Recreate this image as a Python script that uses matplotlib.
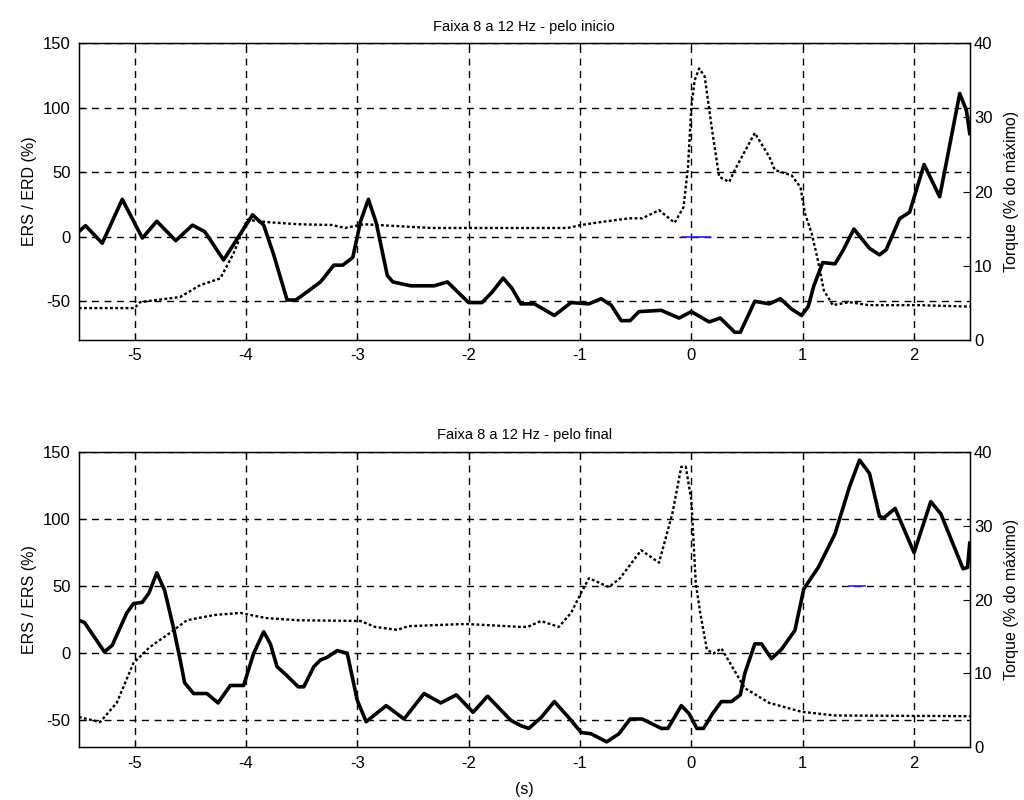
import matplotlib
matplotlib.use("Agg")
import matplotlib.pyplot as plt

plt.rcParams["font.family"] = ["Liberation Sans", "DejaVu Sans"]
plt.rcParams["axes.unicode_minus"] = False

# ---- pelo inicio (top) ----
t1_ers = [-5.5, -5.44, -5.29, -5.11, -4.93, -4.80, -4.63, -4.48, -4.37, -4.20,
          -3.94, -3.84, -3.75, -3.63, -3.55, -3.33, -3.21, -3.13, -3.04, -2.97,
          -2.90, -2.83, -2.73, -2.68, -2.52, -2.31, -2.19, -2.00, -1.88, -1.79,
          -1.69, -1.61, -1.53, -1.41, -1.23, -1.08, -0.92, -0.81, -0.72, -0.63,
          -0.55, -0.47, -0.27, -0.11, 0.0, 0.16, 0.26, 0.39, 0.44, 0.57,
          0.70, 0.80, 0.90, 0.99, 1.05, 1.10, 1.18, 1.29, 1.36, 1.46,
          1.60, 1.69, 1.75, 1.87, 1.96, 2.09, 2.23, 2.28, 2.41, 2.47, 2.5]
ers1 = [4, 8.6, -5, 29, -1, 12, -3, 9, 4, -18,
        17, 9, -14, -49, -49, -35, -22, -22, -16, 12,
        29, 11, -30, -35, -38, -38, -35, -51, -51, -43,
        -32, -40, -52, -52, -61, -51, -52, -48, -53, -65,
        -65, -58, -57, -63, -58, -66, -63, -74, -74, -50,
        -52, -48, -56, -61, -54, -38, -20, -21, -11, 6,
        -9, -14, -10, 14, 19, 56, 31, 53, 111, 98, 80]

t1_torque = [-5.5, -5.0, -4.95, -4.59, -4.41, -4.23, -4.11, -3.99, -3.82, -3.53,
             -3.23, -3.11, -2.94, -2.34, -1.53, -1.11, -0.99, -0.81, -0.56, -0.44,
             -0.29, -0.15, -0.07, -0.03, 0.0, 0.03, 0.07, 0.12, 0.19, 0.25,
             0.34, 0.39, 0.57, 0.70, 0.75, 0.90, 0.98, 1.02, 1.08, 1.13,
             1.19, 1.27, 1.42, 1.59, 2.04, 2.5]
torque1 = [4.3, 4.3, 5.1, 5.8, 7.4, 8.3, 11.7, 16.2, 15.9, 15.6,
           15.5, 15.1, 15.6, 15.1, 15.1, 15.1, 15.5, 15.9, 16.4, 16.4,
           17.5, 15.8, 17.9, 23.3, 31.4, 35.0, 36.6, 35.5, 27.9, 22.0,
           21.3, 22.9, 27.9, 24.7, 22.9, 22.2, 20.6, 17.1, 14.4, 11.2,
           6.7, 4.7, 5.1, 4.7, 4.7, 4.5]

# ---- pelo final (bottom) ----
t2_ers = [-5.5, -5.45, -5.27, -5.20, -5.07, -5.01, -4.93, -4.87, -4.80, -4.73,
          -4.65, -4.59, -4.55, -4.47, -4.35, -4.25, -4.14, -4.02, -3.93, -3.84,
          -3.78, -3.72, -3.64, -3.53, -3.48, -3.39, -3.33, -3.27, -3.18, -3.09,
          -3.00, -2.92, -2.74, -2.58, -2.40, -2.25, -2.11, -1.96, -1.83, -1.62,
          -1.53, -1.46, -1.35, -1.23, -1.10, -0.99, -0.90, -0.76, -0.65, -0.55,
          -0.44, -0.27, -0.21, -0.09, -0.02, 0.05, 0.11, 0.19, 0.27, 0.36,
          0.44, 0.48, 0.57, 0.63, 0.72, 0.81, 0.93, 1.01, 1.14, 1.29,
          1.42, 1.51, 1.60, 1.69, 1.73, 1.83, 2.00, 2.15, 2.24, 2.44, 2.48, 2.5]
ers2 = [24.6, 23, 1, 6, 30, 37, 38, 45, 60, 47,
        19, -5, -22, -30, -30, -37, -24, -24, 0, 16,
        7, -10, -16, -25, -25, -10, -5, -3, 2, 0,
        -35, -51, -39, -49, -30, -37, -31, -44, -32, -50,
        -54, -56, -48, -36, -48, -59, -60, -66, -60, -49,
        -49, -56, -56, -39, -45, -56, -56, -45, -36, -36,
        -31, -15, 7, 7, -4, 3, 17, 48, 64, 89,
        124, 144, 134, 102, 101, 108, 75, 113, 104, 63, 64, 82]

t2_torque = [-5.5, -5.31, -5.16, -5.01, -4.86, -4.68, -4.53, -4.29, -4.05, -3.82,
             -3.53, -2.97, -2.84, -2.64, -2.54, -2.03, -1.53, -1.47, -1.35, -1.19,
             -1.08, -0.99, -0.92, -0.74, -0.64, -0.45, -0.29, -0.17, -0.09, -0.05,
             0.0, 0.04, 0.08, 0.14, 0.20, 0.27, 0.48, 0.70, 0.99, 1.29, 2.5]
torque2 = [4.1, 3.4, 6.0, 11.4, 13.6, 15.5, 17.2, 17.9, 18.2, 17.5,
           17.2, 17.1, 16.3, 15.9, 16.4, 16.7, 16.3, 16.3, 17.1, 16.3,
           18.2, 20.9, 22.9, 21.7, 22.9, 26.7, 25.0, 31.7, 38.0, 38.0,
           33.5, 22.2, 18.2, 13.2, 12.7, 13.4, 8.0, 6.0, 4.8, 4.3, 4.2]

# short blue strokes sitting on the grid lines
blue1_t, blue1_y = [-0.08, 0.17], [0, 0]
blue2_t, blue2_y = [1.42, 1.56], [50, 50]

titles = ["Faixa 8 a 12 Hz - pelo inicio", "Faixa 8 a 12 Hz - pelo final"]
ylabels = ["ERS / ERD (%)", "ERS / ERS (%)"]
ylims = [(-80, 150), (-70, 150)]

fig = plt.figure(figsize=(10.24, 8), dpi=100)
boxes = [[0.077, 0.575, 0.870, 0.371], [0.077, 0.066, 0.870, 0.369]]
panels = [(t1_ers, ers1, t1_torque, torque1, blue1_t, blue1_y),
          (t2_ers, ers2, t2_torque, torque2, blue2_t, blue2_y)]

for i, (box, (te, ev, tt, tv, bt, by)) in enumerate(zip(boxes, panels)):
    ax = fig.add_axes(box)
    ax.plot(te, ev, "-", color="black", lw=2.6, zorder=3)
    ax.plot(bt, by, "-", color="#2020ff", lw=1.2, zorder=2)
    ax.set_xlim(-5.5, 2.5)
    ax.set_ylim(*ylims[i])
    ax.set_xticks([-5, -4, -3, -2, -1, 0, 1, 2])
    ax.set_yticks([-50, 0, 50, 100, 150])
    ax.grid(True, color="black", linestyle=(0, (5, 4)), lw=1.0)
    ax.tick_params(direction="in", top=True, right=True, labelsize=12,
                   length=5, pad=6)
    ax.set_ylabel(ylabels[i], fontsize=11.5)
    ax.set_title(titles[i], fontsize=10.5, pad=9)
    for s in ax.spines.values():
        s.set_linewidth(1.0)

    ax2 = ax.twinx()
    ax2.plot(tt, tv, color="black", lw=1.7, linestyle=(0, (1.2, 1.0)), zorder=2)
    ax2.set_ylim(0, 40)
    ax2.set_yticks([0, 10, 20, 30, 40])
    ax2.tick_params(direction="in", labelsize=12, length=5, pad=3)
    ax2.set_ylabel("Torque (% do máximo)", fontsize=11.5, labelpad=8)

    if i == 1:
        ax.set_xlabel("(s)", fontsize=11.5, labelpad=8)

fig.savefig("out.png", dpi=100)
